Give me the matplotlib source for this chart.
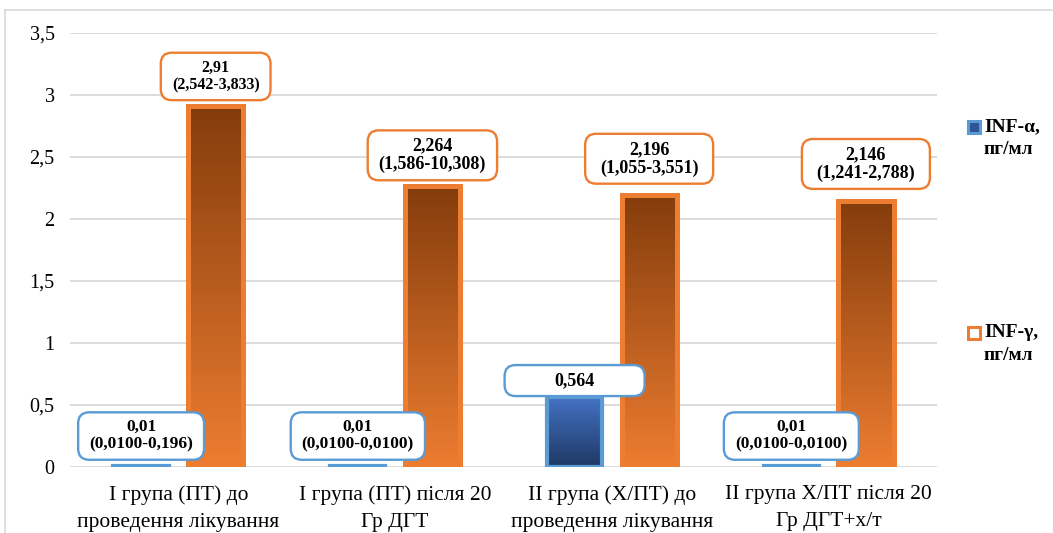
import numpy as np
import matplotlib
matplotlib.use("Agg")
import matplotlib.pyplot as plt
from matplotlib.colors import LinearSegmentedColormap
from matplotlib.patches import FancyBboxPatch, Rectangle
from matplotlib.lines import Line2D
from matplotlib.transforms import IdentityTransform

# ---------------- data ----------------
categories = ["I група (ПТ) до\nпроведення лікування",
              "I група (ПТ) після 20\nГр ДГТ",
              "II група (Х/ПТ) до\nпроведення лікування",
              "II група Х/ПТ після 20\nГр ДГТ+х/т"]
inf_alpha = [0.01, 0.01, 0.564, 0.01]
inf_gamma = [2.91, 2.264, 2.196, 2.146]
alpha_labels = ["0,01\n(0,0100-0,196)", "0,01\n(0,0100-0,0100)", "0,564", "0,01\n(0,0100-0,0100)"]
gamma_labels = ["2,91\n(2,542-3,833)", "2,264\n(1,586-10,308)", "2,196\n(1,055-3,551)", "2,146\n(1,241-2,788)"]
series_names = ["INF-α,\nпг/мл", "INF-γ,\nпг/мл"]
yticks = [0, 0.5, 1, 1.5, 2, 2.5, 3, 3.5]
ytick_labels = ["0", "0,5", "1", "1,5", "2", "2,5", "3", "3,5"]

# ---------------- style ----------------
SERIF = ["Liberation Serif", "DejaVu Serif"]
plt.rcParams['font.family'] = SERIF
ORANGE = "#ed7d31"
ORANGE_DARK = "#843c0c"
BLUE_EDGE = "#5b9bd5"
BLUE_TOP = "#4472c4"
BLUE_BOT = "#1f3864"
GRID = "#d9d9d9"

# label layout (font size, gap above bar in px, min box width in px)
alpha_fs = [12.5, 12.5, 13, 12.5]
gamma_fs = [11.5, 13, 13, 13]
alpha_gap = [6, 6, 1, 6]
gamma_gap = [6, 6, 11, 12]
alpha_minw = [125, 130, 140, 135]
gamma_minw = [107, 124, 128, 128]

W, H = 1053, 533
fig = plt.figure(figsize=(W / 100, H / 100), dpi=100)
ax = fig.add_axes([70 / W, 1 - 467 / H, (937 - 70) / W, (467 - 33) / H])

x = np.arange(len(categories))
bw = 0.255
off = 0.172

ax.set_xlim(-0.5, len(categories) - 0.5)
ax.set_ylim(0, 3.5)

cmap_or = LinearSegmentedColormap.from_list("or", [ORANGE, ORANGE_DARK])
cmap_bl = LinearSegmentedColormap.from_list("bl", [BLUE_BOT, BLUE_TOP])
grad = np.linspace(0, 1, 256).reshape(-1, 1)

def gradient_bars(xs, vals, cmap, edge, lw):
    bars = ax.bar(xs, vals, width=bw, facecolor="none", edgecolor=edge,
                  linewidth=lw, zorder=3)
    for b in bars:
        bx, by = b.get_x(), b.get_y()
        im = ax.imshow(grad, extent=[bx, bx + b.get_width(), by, by + b.get_height()],
                       origin="lower", cmap=cmap, aspect="auto", zorder=2,
                       interpolation="bilinear")
        im.set_clip_path(b)
    return bars

bars_a = gradient_bars(x - off, inf_alpha, cmap_bl, BLUE_EDGE, 3.0)
bars_g = gradient_bars(x + off, inf_gamma, cmap_or, ORANGE, 3.6)
ax.set_xlim(-0.5, len(categories) - 0.5)
ax.set_ylim(0, 3.5)

# axes styling
ax.set_yticks(yticks)
ax.set_yticklabels(ytick_labels, fontsize=14.5)
ax.set_xticks(x)
ax.set_xticklabels(categories, fontsize=15.5)
ax.tick_params(length=0)
ax.tick_params(axis="y", pad=11)
ax.tick_params(axis="x", pad=13)
for s in ax.spines.values():
    s.set_visible(False)
ax.yaxis.grid(True, color=GRID, linewidth=1.3)
ax.set_axisbelow(True)

# ---------------- data labels with rounded boxes ----------------
fig.canvas.draw()
for tk in ax.xaxis.get_major_ticks():
    tk.label1.set_linespacing(1.6)
renderer = fig.canvas.get_renderer()

def add_label(xc, val, text, edge, fs, gap_px, min_w):
    padx, pady = 11, 7
    t = ax.annotate(text, xy=(xc, val), xytext=(0, (gap_px + pady) * 0.72),
                    textcoords="offset points", ha="center", va="bottom",
                    fontsize=fs, fontweight="bold", linespacing=1.12, zorder=6,
                    annotation_clip=False)
    ext = t.get_window_extent(renderer)
    w = max(ext.width + 2 * padx, min_w)
    cx = (ext.x0 + ext.x1) / 2
    box = FancyBboxPatch((cx - w / 2, ext.y0 - pady), w, ext.height + 2 * pady,
                         boxstyle="round,pad=0,rounding_size=11",
                         transform=IdentityTransform(), facecolor="white",
                         edgecolor=edge, linewidth=1.7, zorder=5, clip_on=False)
    ax.add_artist(box)

for i in range(len(categories)):
    add_label(x[i] - off, inf_alpha[i], alpha_labels[i], BLUE_EDGE,
              alpha_fs[i], alpha_gap[i], alpha_minw[i])
    add_label(x[i] + off, inf_gamma[i], gamma_labels[i], ORANGE,
              gamma_fs[i], gamma_gap[i], gamma_minw[i])

# ---------------- legend (manual, Excel-like) ----------------
def legend_entry(y_px, face, edge, label):
    sq = Rectangle((968 / W, 1 - (y_px + 6) / H), 12 / W, 12 / H,
                   transform=fig.transFigure, facecolor=face, edgecolor=edge,
                   linewidth=2.2)
    fig.add_artist(sq)
    fig.text(984 / W, 1 - (y_px - 9) / H, label, ha="left", va="top",
             fontsize=14, fontweight="bold", linespacing=1.45)

legend_entry(127, "#2f5597", BLUE_EDGE, series_names[0])
legend_entry(333, "white", ORANGE, series_names[1])

# ---------------- chart border ----------------
fig.add_artist(Line2D([5 / W, 1], [1 - 10 / H, 1 - 10 / H], transform=fig.transFigure,
                      color=GRID, linewidth=1.2))
fig.add_artist(Line2D([5 / W, 5 / W], [0, 1 - 10 / H], transform=fig.transFigure,
                      color=GRID, linewidth=1.2))

fig.savefig("out.png", dpi=100)
